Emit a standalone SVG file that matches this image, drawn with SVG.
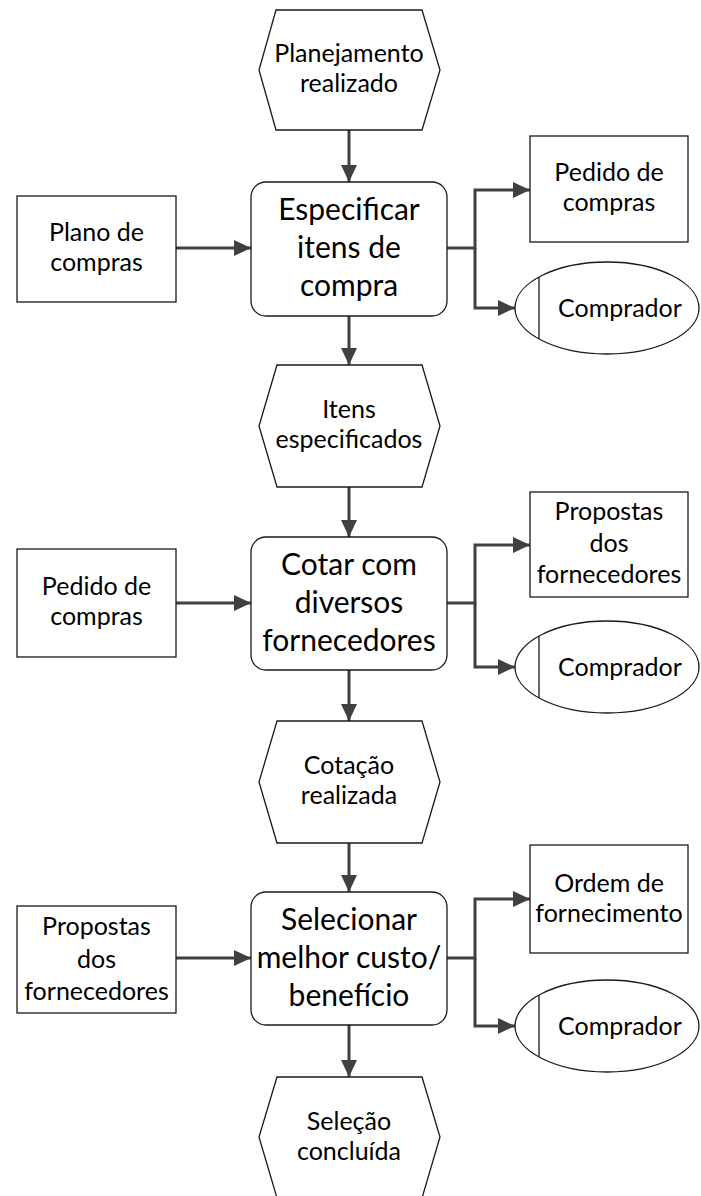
<svg xmlns="http://www.w3.org/2000/svg" width="701" height="1196" viewBox="0 0 701 1196">
<defs>
<style>
.shape{fill:#fff;stroke:#1a1a1a;stroke-width:1.3}
.conn{fill:none;stroke:#404040;stroke-width:3}
.t{font-family:Lato,"Liberation Sans",sans-serif;font-size:25px;fill:#000;text-anchor:middle}
.tp{font-family:Lato,"Liberation Sans",sans-serif;font-size:30px;fill:#000;text-anchor:middle}
</style>
<marker id="ah" markerUnits="userSpaceOnUse" markerWidth="17" markerHeight="16" refX="17" refY="8" orient="auto">
<path d="M0,0 L17,8 L0,16 z" fill="#404040"/>
</marker>
</defs>
<rect width="701" height="1196" fill="#fff"/>

<g id="connectors">
<path class="conn" d="M349,130 V182" marker-end="url(#ah)"/>
<path class="conn" d="M176,248 H251" marker-end="url(#ah)"/>
<path class="conn" d="M447,248 H475 V190 H530" marker-end="url(#ah)"/>
<path class="conn" d="M475,248 V308 H515" marker-end="url(#ah)"/>
<path class="conn" d="M349,316 V365" marker-end="url(#ah)"/>

<path class="conn" d="M349,487 V537" marker-end="url(#ah)"/>
<path class="conn" d="M176,603 H251" marker-end="url(#ah)"/>
<path class="conn" d="M447,603 H475 V545 H530" marker-end="url(#ah)"/>
<path class="conn" d="M475,603 V667 H515" marker-end="url(#ah)"/>
<path class="conn" d="M349,670 V721" marker-end="url(#ah)"/>

<path class="conn" d="M349,843 V892" marker-end="url(#ah)"/>
<path class="conn" d="M176,958 H251" marker-end="url(#ah)"/>
<path class="conn" d="M447,958 H475 V899 H530" marker-end="url(#ah)"/>
<path class="conn" d="M475,958 V1026 H515" marker-end="url(#ah)"/>
<path class="conn" d="M349,1025 V1077" marker-end="url(#ah)"/>
</g>

<g id="ev1">
<polygon class="shape" points="276,10 422,10 440,70 422,130 276,130 259,70"/>
<text class="t" x="349" y="62">Planejamento</text>
<text class="t" x="349" y="92">realizado</text>
</g>

<g id="in1">
<rect class="shape" x="17" y="196" width="159" height="106"/>
<text class="t" x="96.5" y="241">Plano de</text>
<text class="t" x="96.5" y="271">compras</text>
</g>

<g id="fn1">
<rect class="shape" x="251" y="182" width="196" height="134" rx="15" ry="15"/>
<text class="tp" x="349" y="220">Especificar</text>
<text class="tp" x="349" y="258">itens de</text>
<text class="tp" x="349" y="296">compra</text>
</g>

<g id="out1">
<rect class="shape" x="530" y="136" width="158" height="106"/>
<text class="t" x="609" y="181">Pedido de</text>
<text class="t" x="609" y="211">compras</text>
</g>

<g id="org1">
<ellipse class="shape" cx="607" cy="308" rx="92" ry="46"/>
<line class="shape" x1="539" y1="277" x2="539" y2="339"/>
<text class="t" x="620" y="317">Comprador</text>
</g>

<g id="ev2">
<polygon class="shape" points="277,365 422,365 440,426 422,487 277,487 259,426"/>
<text class="t" x="349" y="418">Itens</text>
<text class="t" x="349" y="448">especificados</text>
</g>

<g id="in2">
<rect class="shape" x="17" y="549" width="159" height="108"/>
<text class="t" x="96.5" y="595">Pedido de</text>
<text class="t" x="96.5" y="625">compras</text>
</g>

<g id="fn2">
<rect class="shape" x="251" y="537" width="196" height="133" rx="15" ry="15"/>
<text class="tp" x="349" y="575">Cotar com</text>
<text class="tp" x="349" y="613">diversos</text>
<text class="tp" x="349" y="651">fornecedores</text>
</g>

<g id="out2">
<rect class="shape" x="530" y="492" width="158" height="105"/>
<text class="t" x="609" y="520">Propostas</text>
<text class="t" x="609" y="552">dos</text>
<text class="t" x="609" y="583">fornecedores</text>
</g>

<g id="org2">
<ellipse class="shape" cx="607" cy="667" rx="92" ry="46"/>
<line class="shape" x1="539" y1="636" x2="539" y2="698"/>
<text class="t" x="620" y="676">Comprador</text>
</g>

<g id="ev3">
<polygon class="shape" points="277,721 422,721 440,782 422,843 277,843 259,782"/>
<text class="t" x="349" y="774">Cotação</text>
<text class="t" x="349" y="804">realizada</text>
</g>

<g id="in3">
<rect class="shape" x="17" y="906" width="159" height="107"/>
<text class="t" x="96.5" y="935">Propostas</text>
<text class="t" x="96.5" y="968">dos</text>
<text class="t" x="96.5" y="1000">fornecedores</text>
</g>

<g id="fn3">
<rect class="shape" x="251" y="892" width="196" height="133" rx="15" ry="15"/>
<text class="tp" x="349" y="930">Selecionar</text>
<text class="tp" x="349" y="968">melhor custo/</text>
<text class="tp" x="349" y="1006">benefício</text>
</g>

<g id="out3">
<rect class="shape" x="530" y="845" width="158" height="108"/>
<text class="t" x="609" y="892">Ordem de</text>
<text class="t" x="609" y="922">fornecimento</text>
</g>

<g id="org3">
<ellipse class="shape" cx="607" cy="1026" rx="92" ry="46"/>
<line class="shape" x1="539" y1="995" x2="539" y2="1057"/>
<text class="t" x="620" y="1035">Comprador</text>
</g>

<g id="ev4">
<polygon class="shape" points="277,1077 422,1077 440,1137 422,1198 277,1198 259,1137"/>
<text class="t" x="349" y="1130">Seleção</text>
<text class="t" x="349" y="1160">concluída</text>
</g>
</svg>
